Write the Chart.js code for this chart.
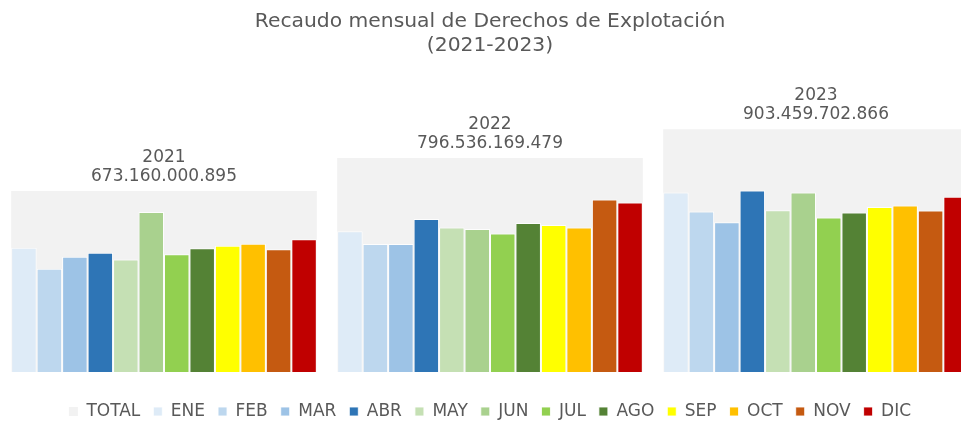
<!DOCTYPE html>
<html>
<head>
<meta charset="utf-8">
<script src="https://cdn.jsdelivr.net/npm/chart.js@4/dist/chart.umd.min.js"></script>
<style>
  html, body { margin: 0; padding: 0; background: #ffffff; overflow: hidden; }
  #wrap { width: 980px; height: 422px; position: relative; }
</style>
</head>
<body>
<div id="wrap"><canvas id="c"></canvas></div>
<script>
// ---- data (pesos) ----
const years = ['2021', '2022', '2023'];
const totalLabels = ['673.160.000.895', '796.536.169.479', '903.459.702.866'];
const totals = [673160000895, 796536169479, 903459702866];
const monthNames = ['ENE', 'FEB', 'MAR', 'ABR', 'MAY', 'JUN', 'JUL', 'AGO', 'SEP', 'OCT', 'NOV', 'DIC'];
// monthly values per year (2021, 2022, 2023), in miles de millones
const ene = [56.3, 63.7, 81.3];
const feb = [46.8, 58.0, 72.7];
const mar = [52.2, 58.0, 67.8];
const abr = [54.0, 69.3, 82.2];
const may = [50.9, 65.5, 73.3];
const jun = [72.5, 64.8, 81.3];
const jul = [53.3, 62.7, 70.0];
const ago = [56.0, 67.5, 72.2];
const sep = [57.2, 66.6, 74.7];
const oct = [58.1, 65.5, 75.4];
const nov = [55.6, 78.1, 73.1];
const dic = [60.1, 76.8, 79.4];
const monthly = [ene, feb, mar, abr, may, jun, jul, ago, sep, oct, nov, dic];

const totalColor = '#F2F2F2';
const monthColors = ['#DEEBF7', '#BDD7EE', '#9DC3E6', '#2E75B6', '#C5E0B4', '#A9D18E',
                     '#92D050', '#548235', '#FFFF00', '#FFC000', '#C55A11', '#C00000'];
const textColor = '#595959';
const FONT = "'DejaVu Sans', Verdana, sans-serif";

const datasets = [{
  label: 'TOTAL',
  data: totals,
  backgroundColor: totalColor,
  borderWidth: 0,
  yAxisID: 'y2',
  grouped: false,
  categoryPercentage: 1,
  barPercentage: 0.9375,
  order: 1
}];
monthNames.forEach((m, i) => {
  datasets.push({
    label: m,
    data: monthly[i].map(v => v * 1e9),
    backgroundColor: monthColors[i],
    borderColor: 'rgba(255,255,255,0.85)',
    borderWidth: 1,
    borderSkipped: 'bottom',
    yAxisID: 'y',
    categoryPercentage: 0.9375,
    barPercentage: 1,
    order: 0
  });
});

const totalLabelPlugin = {
  id: 'totalLabels',
  afterDatasetsDraw(chart) {
    const meta = chart.getDatasetMeta(0);
    const ctx = chart.ctx;
    ctx.save();
    ctx.fillStyle = textColor;
    ctx.font = '17px ' + FONT;
    ctx.textAlign = 'center';
    ctx.textBaseline = 'alphabetic';
    meta.data.forEach((bar, i) => {
      ctx.fillText(totalLabels[i], bar.x, bar.y - 10);
      ctx.fillText(years[i], bar.x, bar.y - 10 - 19);
    });
    ctx.restore();
  }
};

new Chart(document.getElementById('c'), {
  type: 'bar',
  data: { labels: years, datasets },
  plugins: [totalLabelPlugin],
  options: {
    responsive: true,
    maintainAspectRatio: false,
    animation: false,
    layout: { padding: { left: 1, right: 1, top: 0, bottom: -8 } },
    plugins: {
      title: {
        display: true,
        text: ['Recaudo mensual de Derechos de Explotación', '(2021-2023)'],
        color: textColor,
        font: { family: FONT, size: 20.3, weight: 'normal', lineHeight: 1.18 },
        padding: { top: 10, bottom: 5 }
      },
      legend: {
        position: 'bottom',
        title: { display: true, text: ' ', font: { size: 1, lineHeight: 1 }, padding: { top: 17, bottom: 0 } },
        labels: {
          color: textColor,
          font: { family: FONT, size: 17 },
          boxWidth: 9,
          boxHeight: 9,
          padding: 13,
          sort: (a, b) => a.datasetIndex - b.datasetIndex
        }
      },
      tooltip: { enabled: false }
    },
    scales: {
      x: { display: false, grid: { display: false } },
      y: { display: false, min: 0, max: 140e9, grid: { display: false } },
      y2: { display: false, min: 0, max: 1150e9, grid: { display: false }, position: 'right' }
    }
  }
});
</script>
</body>
</html>
